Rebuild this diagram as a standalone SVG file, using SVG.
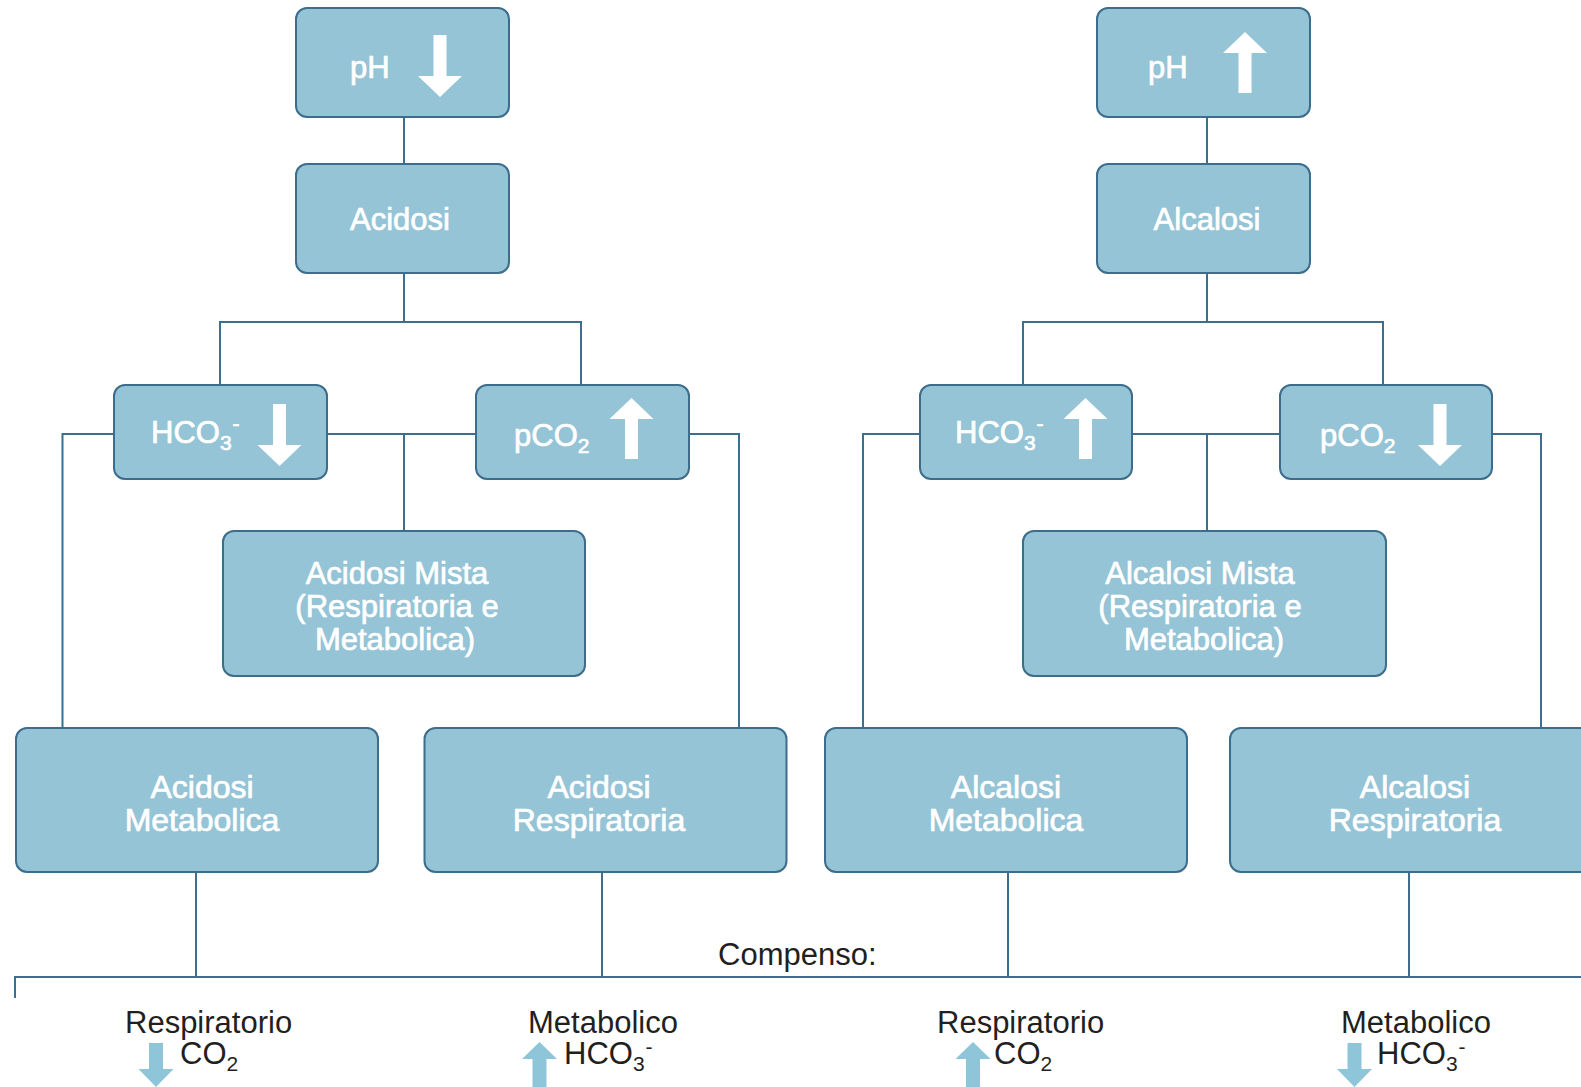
<svg xmlns="http://www.w3.org/2000/svg" xmlns:xlink="http://www.w3.org/1999/xlink" width="1581" height="1087" viewBox="0 0 1581 1087">
<style>
.box{fill:#95c4d6;stroke:#3d6d8c;stroke-width:2}
.bt{fill:#ffffff;stroke:#ffffff;stroke-width:0.7px;font-family:"Liberation Sans",Arial,sans-serif;font-size:31px}
.bt2{fill:#ffffff;stroke:#ffffff;stroke-width:0.7px;font-family:"Liberation Sans",Arial,sans-serif;font-size:32px;text-anchor:middle}
.mid{text-anchor:middle}
.con{fill:none;stroke:#3b6e8f;stroke-width:2}
.lab{fill:#231f20;font-family:"Liberation Sans",Arial,sans-serif;font-size:31px}
.wa{fill:#ffffff}
.ba{fill:#8ec5d9}
</style>
<defs>
<path id="dn" d="M-6.5,0 H6.5 V41 H22 L0,62 L-22,41 H-6.5 Z"/>
<path id="up" d="M0,0 L22,21 H6.5 V61 H-6.5 V21 H-22 Z"/>
<path id="sdn" d="M-7,0 H7 V26 H17.5 L0,44 L-17.5,26 H-7 Z"/>
<path id="sup" d="M0,0 L17.5,17 H7 V46 H-7 V17 H-17.5 Z"/>
</defs>

<g id="connectors">
<path class="con" d="M404,117 V164 M404,273 V322 M220,385 V322 H581 V385"/>
<path class="con" d="M327,434 H476 M404,434 V531"/>
<path class="con" d="M114,434 H62.5 V728 M689,434 H739 V728"/>
<path class="con" d="M1207,117 V164 M1207,273 V322 M1023,385 V322 H1383 V385"/>
<path class="con" d="M1132,434 H1280 M1207,434 V531"/>
<path class="con" d="M920,434 H863 V728 M1492,434 H1541 V728"/>
<path class="con" d="M196,872 V977 M602,872 V977 M1008,872 V977 M1409,872 V977"/>
<path class="con" d="M15,998 V977 H1581"/>
</g>

<g id="ph-low">
<rect class="box" x="296" y="8" width="213" height="109" rx="11"/>
<text class="bt" x="350" y="78">pH</text>
<use href="#dn" class="wa" x="440" y="35"/>
</g>
<g id="acidosi">
<rect class="box" x="296" y="164" width="213" height="109" rx="11"/>
<text class="bt mid" x="400" y="230">Acidosi</text>
</g>
<g id="ph-high">
<rect class="box" x="1097" y="8" width="213" height="109" rx="11"/>
<text class="bt" x="1148" y="78">pH</text>
<use href="#up" class="wa" x="1245" y="32"/>
</g>
<g id="alcalosi">
<rect class="box" x="1097" y="164" width="213" height="109" rx="11"/>
<text class="bt mid" x="1207" y="230">Alcalosi</text>
</g>

<g id="hco3-low">
<rect class="box" x="114" y="385" width="213" height="94" rx="11"/>
<text class="bt" x="151" y="443">HCO<tspan font-size="21" dy="7">3</tspan><tspan font-size="21" dx="1" dy="-19">-</tspan></text>
<use href="#dn" class="wa" x="279.5" y="404"/>
</g>
<g id="pco2-high">
<rect class="box" x="476" y="385" width="213" height="94" rx="11"/>
<text class="bt" x="514" y="446">pCO<tspan font-size="21" dy="7">2</tspan></text>
<use href="#up" class="wa" x="631.5" y="398"/>
</g>
<g id="hco3-high">
<rect class="box" x="920" y="385" width="212" height="94" rx="11"/>
<text class="bt" x="955" y="443">HCO<tspan font-size="21" dy="7">3</tspan><tspan font-size="21" dx="1" dy="-19">-</tspan></text>
<use href="#up" class="wa" x="1085.5" y="398"/>
</g>
<g id="pco2-low">
<rect class="box" x="1280" y="385" width="212" height="94" rx="11"/>
<text class="bt" x="1320" y="446">pCO<tspan font-size="21" dy="7">2</tspan></text>
<use href="#dn" class="wa" x="1440" y="404"/>
</g>

<g id="acidosi-mista">
<rect class="box" x="223" y="531" width="362" height="145" rx="11"/>
<text class="bt mid" x="397" y="584">Acidosi Mista</text>
<text class="bt mid" x="397" y="617">(Respiratoria e</text>
<text class="bt mid" x="395" y="650">Metabolica)</text>
</g>
<g id="alcalosi-mista">
<rect class="box" x="1023" y="531" width="363" height="145" rx="11"/>
<text class="bt mid" x="1200" y="584">Alcalosi Mista</text>
<text class="bt mid" x="1200" y="617">(Respiratoria e</text>
<text class="bt mid" x="1204" y="650">Metabolica)</text>
</g>

<g id="acidosi-metabolica">
<rect class="box" x="16" y="728" width="362" height="144" rx="11"/>
<text class="bt2" x="202" y="798">Acidosi</text>
<text class="bt2" x="202" y="831">Metabolica</text>
</g>
<g id="acidosi-respiratoria">
<rect class="box" x="424.5" y="728" width="362" height="144" rx="11"/>
<text class="bt2" x="599" y="798">Acidosi</text>
<text class="bt2" x="599" y="831">Respiratoria</text>
</g>
<g id="alcalosi-metabolica">
<rect class="box" x="825" y="728" width="362" height="144" rx="11"/>
<text class="bt2" x="1006" y="798">Alcalosi</text>
<text class="bt2" x="1006" y="831">Metabolica</text>
</g>
<g id="alcalosi-respiratoria">
<rect class="box" x="1230" y="728" width="362" height="144" rx="11"/>
<text class="bt2" x="1415" y="798">Alcalosi</text>
<text class="bt2" x="1415" y="831">Respiratoria</text>
</g>

<g id="compenso">
<text class="lab" x="718" y="965">Compenso:</text>
</g>
<g id="comp-resp-acid">
<text class="lab" x="125" y="1033">Respiratorio</text>
<use href="#sdn" class="ba" x="156" y="1043"/>
<text class="lab" x="180" y="1064">CO<tspan font-size="21" dy="7">2</tspan></text>
</g>
<g id="comp-metab-acid">
<text class="lab" x="528" y="1033">Metabolico</text>
<use href="#sup" class="ba" x="539.5" y="1042"/>
<text class="lab" x="564" y="1064">HCO<tspan font-size="21" dy="7">3</tspan><tspan font-size="21" dx="1" dy="-17">-</tspan></text>
</g>
<g id="comp-resp-alc">
<text class="lab" x="937" y="1033">Respiratorio</text>
<use href="#sup" class="ba" x="973" y="1042"/>
<text class="lab" x="994" y="1064">CO<tspan font-size="21" dy="7">2</tspan></text>
</g>
<g id="comp-metab-alc">
<text class="lab" x="1341" y="1033">Metabolico</text>
<use href="#sdn" class="ba" x="1354.5" y="1043"/>
<text class="lab" x="1377" y="1064">HCO<tspan font-size="21" dy="7">3</tspan><tspan font-size="21" dx="1" dy="-17">-</tspan></text>
</g>
</svg>
